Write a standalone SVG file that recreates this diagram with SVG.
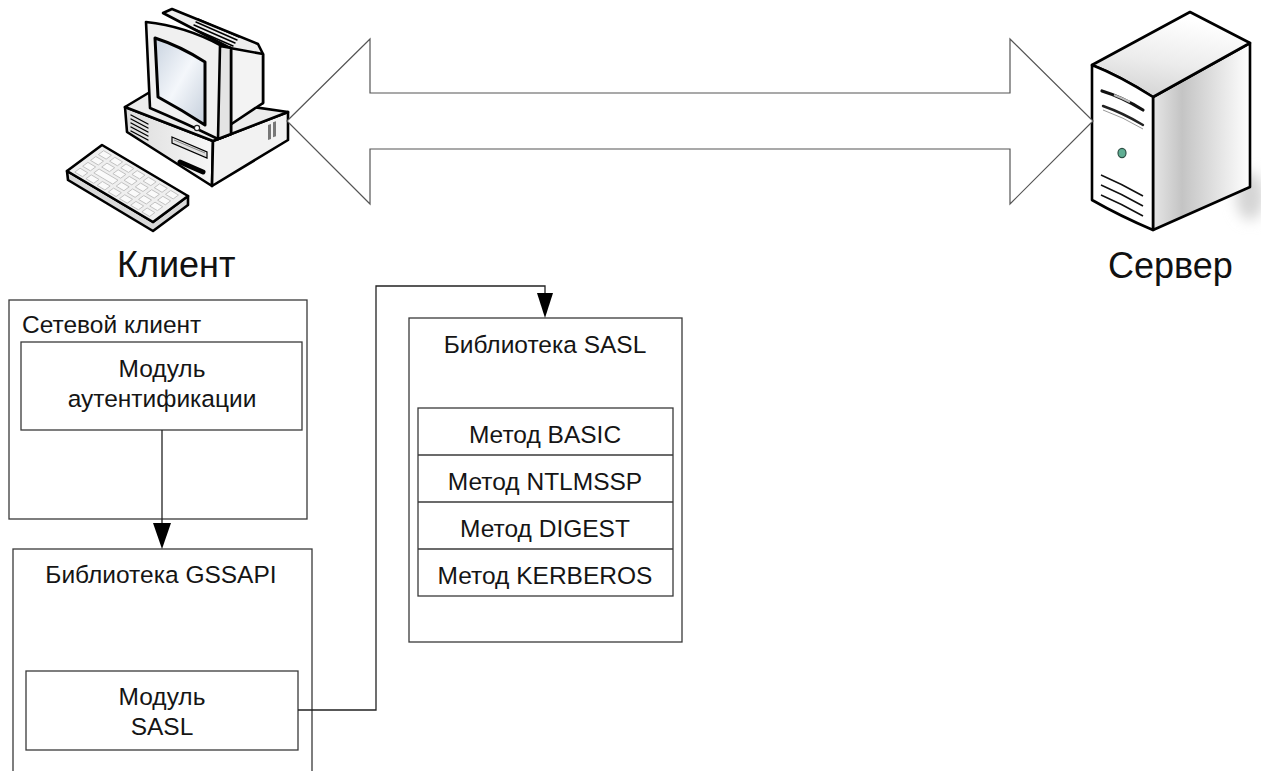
<svg xmlns="http://www.w3.org/2000/svg" width="1261" height="771" viewBox="0 0 1261 771">
  <defs>
    <style>
      .box { fill: none; stroke: #3a3a3a; stroke-width: 1.3; }
      .lbl { font-family: "Liberation Sans", Arial, sans-serif; font-size: 24.5px; fill: #151515; text-anchor: middle; }
      .big { font-family: "Liberation Sans", Arial, sans-serif; font-size: 36px; fill: #111; }
      .wire { fill: none; stroke: #222; stroke-width: 1.3; }
      .head { fill: #000; }
      .ink { stroke: #000; stroke-width: 2.6; stroke-linejoin: round; stroke-linecap: round; }
      .thin { stroke: #000; stroke-width: 1.4; fill: none; stroke-linecap: round; }
    </style>
    <linearGradient id="screenGrad" x1="0" y1="0" x2="1" y2="1">
      <stop offset="0" stop-color="#c9d3e0"/>
      <stop offset="0.5" stop-color="#f4f7fb"/>
      <stop offset="1" stop-color="#c4cedb"/>
    </linearGradient>
    <linearGradient id="caseGrad" x1="0" y1="0" x2="1" y2="0">
      <stop offset="0" stop-color="#dcdcdc"/>
      <stop offset="1" stop-color="#f7f7f7"/>
    </linearGradient>
    <linearGradient id="sideGrad" x1="0" y1="0" x2="1" y2="0">
      <stop offset="0" stop-color="#e6e6e6"/>
      <stop offset="0.3" stop-color="#c4c4c4"/>
      <stop offset="1" stop-color="#ffffff"/>
    </linearGradient>
    <linearGradient id="topGrad" x1="0" y1="1" x2="0.3" y2="0">
      <stop offset="0" stop-color="#cfcfcf"/>
      <stop offset="0.5" stop-color="#ececec"/>
      <stop offset="1" stop-color="#ffffff"/>
    </linearGradient>
    <filter id="soft" x="-50%" y="-50%" width="200%" height="200%">
      <feGaussianBlur stdDeviation="7"/>
    </filter>
  </defs>

  <rect width="1261" height="771" fill="#fff"/>

  <!-- Workstation icon -->
  <g id="client">
    <!-- keyboard -->
    <g id="keyboard">
      <polygon class="ink" fill="#d9d9d9" points="67,171 153,222 188,196 188,205 153,231 68,180"/>
      <polygon class="ink" fill="#efefef" points="67,171 102,145 188,196 153,222"/>
      <g transform="matrix(0.86,0.51,-0.875,0.65,102,145)" fill="#fafafa" stroke="#bdbdbd" stroke-width="0.8">
        <rect x="6" y="4" width="9" height="6"/><rect x="19" y="4" width="9" height="6"/><rect x="32" y="4" width="9" height="6"/><rect x="45" y="4" width="9" height="6"/><rect x="58" y="4" width="9" height="6"/><rect x="71" y="4" width="9" height="6"/><rect x="84" y="4" width="9" height="6"/>
        <rect x="6" y="13" width="9" height="6"/><rect x="19" y="13" width="9" height="6"/><rect x="32" y="13" width="9" height="6"/><rect x="45" y="13" width="9" height="6"/><rect x="58" y="13" width="9" height="6"/><rect x="71" y="13" width="9" height="6"/><rect x="84" y="13" width="9" height="6"/>
        <rect x="6" y="22" width="9" height="6"/><rect x="19" y="22" width="22" height="6"/><rect x="45" y="22" width="9" height="6"/><rect x="58" y="22" width="9" height="6"/><rect x="71" y="22" width="9" height="6"/><rect x="84" y="22" width="9" height="6"/>
        <rect x="6" y="31" width="9" height="6"/><rect x="19" y="31" width="9" height="6"/><rect x="32" y="31" width="9" height="6"/><rect x="45" y="31" width="9" height="6"/><rect x="58" y="31" width="9" height="6"/><rect x="71" y="31" width="9" height="6"/><rect x="84" y="31" width="9" height="6"/>
      </g>
    </g>
    <!-- system unit -->
    <g id="system-unit">
      <polygon class="ink" fill="url(#caseGrad)" points="125,107 127,132 212,186 213,141"/>
      <polygon class="ink" fill="#f2f2f2" points="213,141 288,112 288,140 212,186"/>
      <polygon class="ink" fill="#ececec" points="125,107 150,92 288,112 213,141"/>
      <g class="thin" stroke-width="1.6">
        <line x1="131" y1="115" x2="148" y2="124"/>
        <line x1="131" y1="119" x2="148" y2="128"/>
        <line x1="131" y1="123" x2="148" y2="132"/>
        <line x1="131" y1="127" x2="148" y2="136"/>
        <line x1="131" y1="131" x2="148" y2="140"/>
      </g>
      <polygon fill="#e0e0e0" stroke="#000" stroke-width="1.2" points="172,137 207,152 207,158 172,143"/>
      <line x1="174" y1="140" x2="205" y2="153" stroke="#888" stroke-width="1"/>
      <line x1="180" y1="162" x2="203" y2="172" stroke="#000" stroke-width="5" stroke-linecap="round"/>
      <rect x="268" y="124" width="3" height="15" fill="#777" transform="skewY(-18) translate(0,88)"/>
      <rect x="273" y="122" width="3" height="15" fill="#777" transform="skewY(-18) translate(0,89)"/>
    </g>
    <!-- monitor -->
    <g id="monitor">
      <polygon class="ink" fill="#eeeeee" points="163,13 172,9 258,44 263,54 263,103 232,118 230,48"/>
      <polygon class="ink" fill="#f3f3f3" points="230,48 263,54 263,103 230,125"/>
      <g class="thin" stroke-width="1.5">
        <line x1="198" y1="19" x2="239" y2="37"/>
        <line x1="196" y1="22" x2="237" y2="40"/>
        <line x1="194" y1="25" x2="235" y2="43"/>
        <line x1="192" y1="28" x2="233" y2="46"/>
      </g>
      <path class="ink" fill="#f0f0f0" d="M146,22 Q185,26 222,46 L231,48 L231,134 L218,139 Q183,122 150,108 Z"/>
      <path class="ink" fill="#e4e4e4" d="M220,46 L231,48 L231,134 L218,139 Z"/>
      <path fill="url(#screenGrad)" stroke="#000" stroke-width="3" stroke-linejoin="round" d="M155,38 Q180,46 205,62 L205,125 Q182,110 158,97 Z"/>
      <circle cx="197" cy="128" r="2.6" fill="#fff" stroke="#222" stroke-width="1.2"/>
    </g>
    <text class="big" x="117" y="277">Клиент</text>
  </g>

  <!-- Server icon -->
  <g id="server">
    <ellipse cx="1250" cy="196" rx="14" ry="24" fill="#d4d4d4" filter="url(#soft)"/>
    <polygon class="ink" fill="url(#sideGrad)" points="1153,97 1250,43 1250,187 1153,230"/>
    <path class="ink" fill="url(#topGrad)" d="M1092,65 L1190,12 L1250,43 L1153,97 Q1120,76 1092,65 Z"/>
    <path class="ink" fill="#ffffff" d="M1092,65 Q1120,76 1153,97 L1153,230 Q1120,216 1092,200 Z"/>
    <path d="M1102,91 Q1122,97 1143,110" stroke="#111" stroke-width="3.2" fill="none" stroke-linecap="round"/>
    <path d="M1114,95 Q1122,98 1130,102" stroke="#bbb" stroke-width="2" fill="none"/>
    <path d="M1103,106 Q1123,113 1143,125" stroke="#222" stroke-width="2.4" fill="none" stroke-linecap="round"/>
    <path d="M1103,110 Q1123,117 1143,129" stroke="#999" stroke-width="1" fill="none"/>
    <ellipse cx="1122" cy="153" rx="4" ry="4.6" fill="#5fae93" stroke="#2c4f44" stroke-width="1.2"/>
    <path d="M1101,175 Q1122,184 1143,196" stroke="#111" stroke-width="1.6" fill="none"/>
    <path d="M1101,185 Q1122,194 1143,206" stroke="#111" stroke-width="1.6" fill="none"/>
    <path d="M1101,195 Q1122,204 1143,216" stroke="#111" stroke-width="1.6" fill="none"/>
    <text class="big" x="1108" y="278">Сервер</text>
  </g>

  <!-- Two-way link between client and server -->
  <g id="link">
    <polygon points="287,121 370,39 370,93 1010,93 1010,39 1093,121 1010,204 1010,149 370,149 370,204" fill="#fff" stroke="#555" stroke-width="1.2"/>
  </g>

  <!-- Network client -->
  <g id="net-client">
    <rect class="box" x="9" y="300" width="298" height="219"/>
    <text class="lbl" x="22" y="333" style="text-anchor:start">Сетевой клиент</text>
  </g>
  <g id="auth-module">
    <rect class="box" x="21" y="342" width="281" height="88"/>
    <text class="lbl" x="162" y="377">Модуль</text>
    <text class="lbl" x="162" y="407">аутентификации</text>
  </g>

  <!-- GSSAPI library -->
  <g id="gssapi">
    <rect class="box" x="13" y="549" width="299" height="240"/>
    <text class="lbl" x="161" y="583">Библиотека GSSAPI</text>
  </g>
  <g id="sasl-module">
    <rect class="box" x="26" y="671" width="272" height="79"/>
    <text class="lbl" x="162" y="705">Модуль</text>
    <text class="lbl" x="162" y="735">SASL</text>
  </g>

  <!-- SASL library -->
  <g id="sasl-lib">
    <rect class="box" x="409" y="318" width="273" height="324"/>
    <text class="lbl" x="545" y="353">Библиотека SASL</text>
  </g>
  <g id="methods">
    <rect class="box" x="418" y="408" width="255" height="188"/>
    <line class="box" x1="418" y1="455" x2="673" y2="455"/>
    <line class="box" x1="418" y1="502" x2="673" y2="502"/>
    <line class="box" x1="418" y1="549" x2="673" y2="549"/>
    <text class="lbl" x="545" y="443">Метод BASIC</text>
    <text class="lbl" x="545" y="490">Метод NTLMSSP</text>
    <text class="lbl" x="545" y="537">Метод DIGEST</text>
    <text class="lbl" x="545" y="584">Метод KERBEROS</text>
  </g>

  <!-- Connectors -->
  <g id="connectors">
    <path class="wire" d="M162,430 V526"/>
    <polygon class="head" points="153,523 171,523 162,549"/>
    <path class="wire" d="M298,710 H376 V286 H545 V296"/>
    <polygon class="head" points="537,293 553,293 545,318"/>
  </g>
</svg>
